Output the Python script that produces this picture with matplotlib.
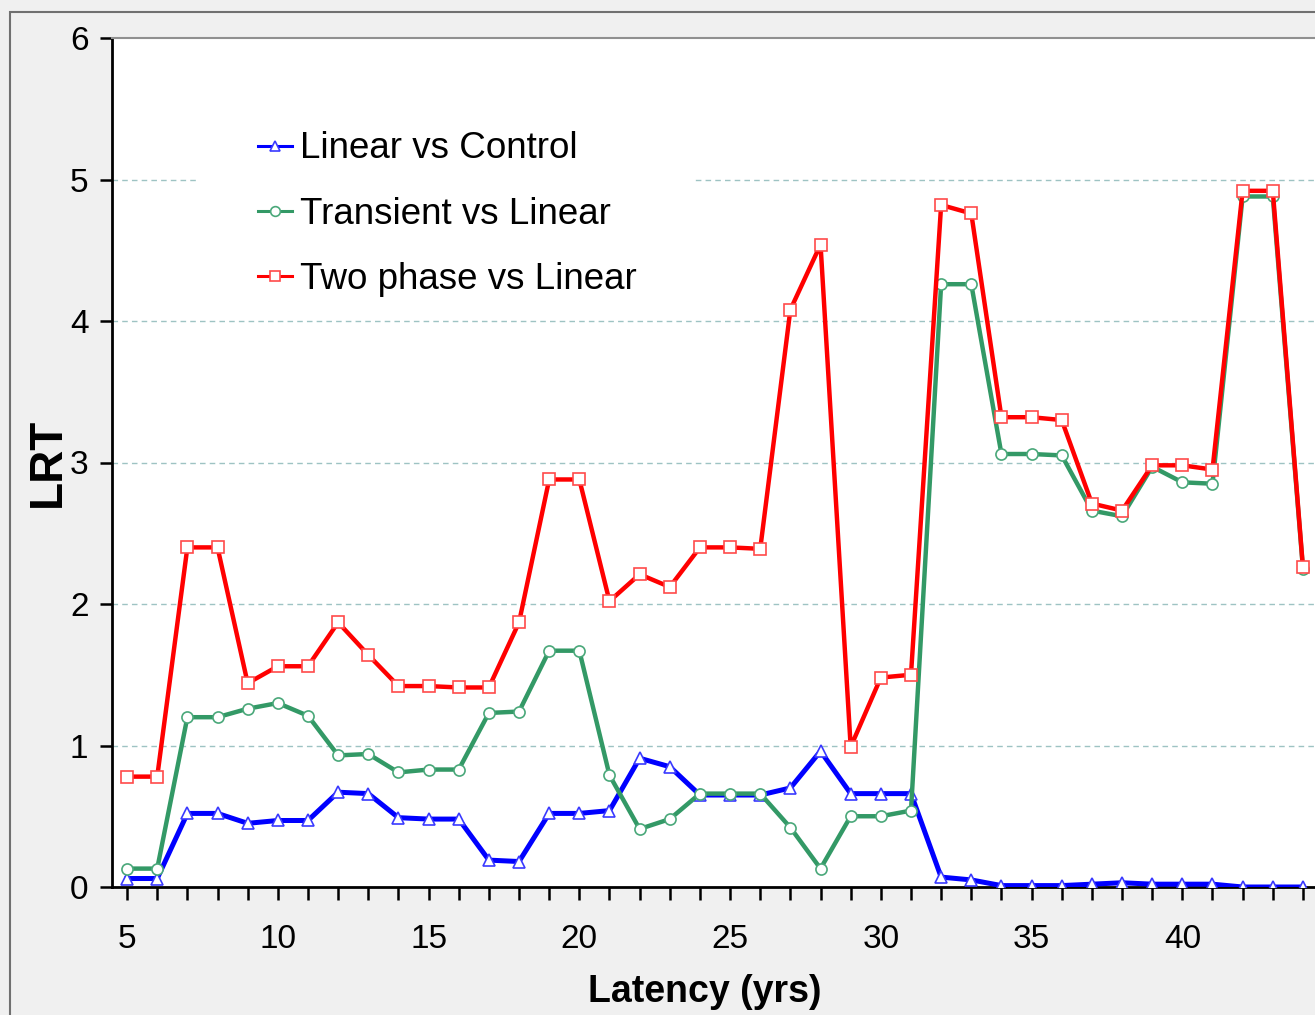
import matplotlib
matplotlib.use("Agg")
import matplotlib.pyplot as plt
from matplotlib.patches import Rectangle
from matplotlib.ticker import MultipleLocator

latency = list(range(5, 45))

linear_vs_control = [0.06, 0.06, 0.52, 0.52, 0.45, 0.47, 0.47, 0.67, 0.66, 0.49,
                     0.48, 0.48, 0.19, 0.18, 0.52, 0.52, 0.54, 0.91, 0.85, 0.65,
                     0.65, 0.65, 0.70, 0.96, 0.66, 0.66, 0.66, 0.07, 0.05, 0.01,
                     0.01, 0.01, 0.02, 0.03, 0.02, 0.02, 0.02, 0.00, 0.00, 0.00]

transient_vs_linear = [0.13, 0.13, 1.20, 1.20, 1.26, 1.30, 1.21, 0.93, 0.94, 0.81,
                       0.83, 0.83, 1.23, 1.24, 1.67, 1.67, 0.79, 0.41, 0.48, 0.66,
                       0.66, 0.66, 0.42, 0.13, 0.50, 0.50, 0.54, 4.26, 4.26, 3.06,
                       3.06, 3.05, 2.66, 2.62, 2.97, 2.86, 2.85, 4.88, 4.88, 2.25]

two_phase_vs_linear = [0.78, 0.78, 2.40, 2.40, 1.44, 1.56, 1.56, 1.87, 1.64, 1.42,
                       1.42, 1.41, 1.41, 1.87, 2.88, 2.88, 2.02, 2.21, 2.12, 2.40,
                       2.40, 2.39, 4.08, 4.54, 0.99, 1.48, 1.50, 4.82, 4.76, 3.32,
                       3.32, 3.30, 2.71, 2.66, 2.98, 2.98, 2.95, 4.92, 4.92, 2.26]

labels = ["Linear vs Control", "Transient vs Linear", "Two phase vs Linear"]

plt.rcParams['font.family'] = ['Liberation Sans', 'DejaVu Sans']

fig = plt.figure(figsize=(13.15, 10.15), dpi=100, facecolor="#f0f0f0")
# outer frame of the figure
fig.patches.append(Rectangle((10 / 1315, -0.05), 1.1, (1015 - 12) / 1015 + 0.05,
                             transform=fig.transFigure, fill=False,
                             edgecolor="#707070", linewidth=1.5))

ax = fig.add_axes([112 / 1315, (1015 - 887) / 1015, 1 - 112 / 1315, (887 - 38) / 1015])
ax.set_facecolor("white")

ax.plot(latency, linear_vs_control, color="#0000ff", lw=3.6, marker="^", ms=8.5,
        mfc="white", mec="#3a3aff", mew=1.2, label=labels[0], zorder=3)
ax.plot(latency, transient_vs_linear, color="#339966", lw=3.2, marker="o", ms=8,
        mfc="white", mec="#4aa87a", mew=1.2, label=labels[1], zorder=3)
ax.plot(latency, two_phase_vs_linear, color="#ff0000", lw=3.2, marker="s", ms=8,
        mfc="white", mec="#ff4a4a", mew=1.2, label=labels[2], zorder=4)

ax.set_xlim(4.5, 44.4)
ax.set_ylim(0, 6)
ax.xaxis.set_major_locator(MultipleLocator(5))
ax.xaxis.set_minor_locator(MultipleLocator(1))
ax.yaxis.set_major_locator(MultipleLocator(1))

for y in range(1, 6):
    ax.axhline(y, color="#9ec3c3", lw=1.0, ls=(0, (4, 3)), zorder=1)

# white box behind the legend (breaks the grid line like the original)
ax.add_patch(Rectangle((0.0715, 0.68), 0.413, 0.247, transform=ax.transAxes,
                       facecolor="white", edgecolor="none", zorder=2))

ax.tick_params(axis="both", which="both", direction="out", length=9, width=1.8,
               colors="black", labelsize=24)
ax.tick_params(axis="x", pad=18)
ax.tick_params(axis="y", pad=8)

for side in ["left", "bottom"]:
    ax.spines[side].set_linewidth(2)
    ax.spines[side].set_color("black")
ax.spines["top"].set_color("#909090")
ax.spines["top"].set_linewidth(1.5)
ax.spines["right"].set_visible(False)

ax.set_xlabel("Latency (yrs)", fontsize=27, fontweight="bold", labelpad=13)
ax.xaxis.label.set_x(0.493)
ax.set_ylabel("LRT", fontsize=33, fontweight="bold", labelpad=0)

leg = ax.legend(loc="upper left", bbox_to_anchor=(0.1214, 0.89), fontsize=26.5,
                frameon=False, handlelength=0.92, handletextpad=0.22,
                labelspacing=0.82, borderpad=0, borderaxespad=0)
for h in leg.legend_handles:
    h.set_linewidth(2.2)
    h.set_markersize(7)

fig.savefig("out.png", dpi=100, facecolor=fig.get_facecolor())
